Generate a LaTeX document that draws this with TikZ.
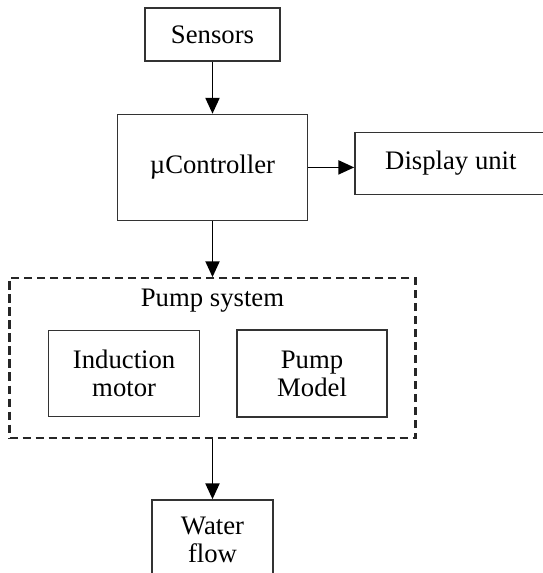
\documentclass[tikz,border=0pt]{standalone}
\usepackage{fontspec}
\setmainfont{Liberation Serif}
\usetikzlibrary{positioning, arrows.meta}

\begin{document}
\begin{tikzpicture}[
    node distance=1cm,
    font=\fontsize{15.2pt}{16pt}\selectfont,
    block/.style={draw=black!80, rectangle, line width=0.8pt, align=center, inner sep=2pt},
    group/.style={draw=black!85, rectangle, line width=1.2pt, dash pattern=on 4.8pt off 2.6pt, minimum width=8.12cm, minimum height=3.2cm},
    arrow/.style={-{Triangle[length=9pt,width=8pt]}, line width=1pt}
]
\useasboundingbox (0,0) rectangle (10.86,-11.46);

% Nodes
\node (sensors) [block, minimum width=2.7cm, minimum height=1.06cm] at (4.25,-0.69) {Sensors};
\node (ctrl) [block, below=1.04cm of sensors, minimum width=3.8cm, minimum height=2.12cm] {µController};
\node (display) [block, right=0.92cm of ctrl, yshift=0.08cm, minimum width=3.84cm, minimum height=1.24cm] {Display unit};

% Pump system group
\node (pump) [group, below=1.12cm of ctrl] {};
\node (pumptitle) [yshift=-0.48cm] at (pump.north) {Pump system};
\node (motor) [block, above right=0.44cm and 0.79cm of pump.south west, minimum width=3.02cm, minimum height=1.72cm] {Induction\\motor};
\node (model) [block, right=0.72cm of motor, minimum width=3.0cm, minimum height=1.74cm] {Pump\\Model};

\node (water) [block, below=1.2cm of pump, minimum width=2.42cm, minimum height=1.6cm] {Water\\flow};

% Connections
\draw [arrow] (sensors) -- (ctrl);
\draw [arrow] (ctrl.east) -- (ctrl.east -| display.west);
\draw [arrow] (ctrl) -- (pump);
\draw [arrow] (pump) -- (water);

\end{tikzpicture}
\end{document}
